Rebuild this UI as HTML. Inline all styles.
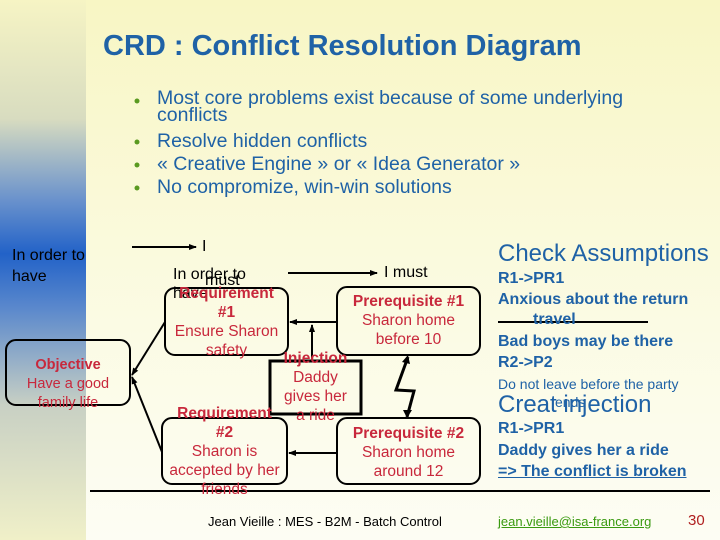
<!DOCTYPE html>
<html><head><meta charset="utf-8"><style>
body{margin:0;width:720px;height:540px;overflow:hidden;font-family:"Liberation Sans",sans-serif;}
#bg{position:absolute;left:0;top:0;width:720px;height:540px;background:linear-gradient(#f8f6c4,#fbfbe4 60%,#fdfdf4);}
#strip{position:absolute;left:0;top:0;width:86px;height:540px;background:linear-gradient(#f6f4c4 0%,#d8dcc0 22%,#6a92cc 37%,#2262c8 47%,#5a88cc 57%,#c8d0c4 75%,#f0f0c8 100%);}
.t{position:absolute;white-space:nowrap;}
.c{text-align:center;position:absolute;color:#c8283c;font-size:15.5px;line-height:19px;}
.b{font-weight:bold;}
.blue{color:#1f62a6;}
</style></head><body>
<div id="bg"></div><div id="strip"></div>
<div class="t blue b" style="left:103px;top:30px;font-size:29px;">CRD : Conflict Resolution Diagram</div>
<div class="blue" style="position:absolute;left:157px;top:90px;font-size:19.5px;line-height:17px;">Most core problems exist because of some underlying<br>conflicts</div>
<div class="t blue" style="left:157px;top:130px;font-size:19.5px;">Resolve hidden conflicts</div>
<div class="t blue" style="left:157px;top:153px;font-size:19.5px;">« Creative Engine » or « Idea Generator »</div>
<div class="t blue" style="left:157px;top:176px;font-size:19.5px;">No compromize, win-win solutions</div>
<svg style="position:absolute;left:0;top:0" width="720" height="540">
<g fill="#5a9a20"><circle cx="137" cy="101" r="2.5"/><circle cx="137" cy="142" r="2.5"/><circle cx="137" cy="165" r="2.5"/><circle cx="137" cy="188" r="2.5"/></g>
<defs><marker id="a" markerWidth="8" markerHeight="8" refX="7" refY="4" orient="auto" markerUnits="userSpaceOnUse"><path d="M0,1 L8,4 L0,7z" fill="#000"/></marker></defs>
<g stroke="#000" stroke-width="2" fill="none">
<rect x="6" y="340" width="124" height="65" rx="10"/>
<rect x="165" y="288" width="123" height="67" rx="10"/>
<rect x="162" y="418" width="125" height="66" rx="10"/>
<rect x="337" y="287" width="143" height="68" rx="10"/>
<rect x="337" y="418" width="143" height="66" rx="10"/>
<rect x="270" y="361" width="91" height="53" stroke-width="3"/>
<line x1="132" y1="247" x2="196" y2="247" marker-end="url(#a)"/>
<line x1="288" y1="273" x2="377" y2="273" marker-end="url(#a)"/>
<line x1="337" y1="322" x2="290" y2="322" marker-end="url(#a)"/>
<line x1="337" y1="453" x2="289" y2="453" marker-end="url(#a)"/>
<line x1="312" y1="360" x2="312" y2="325" marker-end="url(#a)"/>
<line x1="165" y1="322" x2="132" y2="375" marker-end="url(#a)"/>
<line x1="162" y1="452" x2="132" y2="377" marker-end="url(#a)"/>
<polyline points="408,357 396,390 414,391 407,417" stroke-width="3"/>
<line x1="90" y1="491" x2="710" y2="491"/>
<line x1="498" y1="322" x2="648" y2="322"/>
</g>
<path d="M402,362 L408,355 L410,364z M403,410 L407,418 L412,410z" fill="#000"/>
</svg>
<div class="t" style="left:12px;top:245px;font-size:16px;line-height:21px;">In order to<br>have</div>
<div class="t" style="left:202px;top:238px;font-size:16px;">I</div>
<div class="t" style="left:173px;top:265px;font-size:16px;line-height:19px;">In order to<br>have</div>
<div class="t" style="left:205px;top:272px;font-size:16px;">must</div>
<div class="t" style="left:384px;top:264px;font-size:16px;">I must</div>
<div class="c" style="left:6px;top:356px;width:124px;font-size:14.5px;"><span class="b">Objective</span><br>Have a good<br>family life</div>
<div class="c" style="left:165px;top:284px;width:123px;"><span class="b">Requirement<br>#1</span><br>Ensure Sharon<br>safety</div>
<div class="c" style="left:162px;top:404px;width:125px;"><span class="b">Requirement<br>#2</span><br>Sharon is<br>accepted by her<br>friends</div>
<div class="c" style="left:332px;top:292px;width:153px;"><span class="b">Prerequisite #1</span><br>Sharon home<br>before 10</div>
<div class="c" style="left:332px;top:424px;width:153px;"><span class="b">Prerequisite #2</span><br>Sharon home<br>around 12</div>
<div class="c" style="left:265px;top:349px;width:101px;"><span class="b">Injection</span><br>Daddy<br>gives her<br>a ride</div>
<div class="t blue" style="left:498px;top:240px;font-size:24px;">Check Assumptions</div>
<div class="t blue b" style="left:498px;top:270px;font-size:16px;">R1-&gt;PR1</div>
<div class="t blue b" style="left:498px;top:291px;font-size:16px;">Anxious about the return</div>
<div class="t blue b" style="left:533px;top:311px;font-size:16px;">travel</div>
<div class="t blue b" style="left:498px;top:333px;font-size:16px;">Bad boys may be there</div>
<div class="t blue b" style="left:498px;top:354px;font-size:16px;">R2-&gt;P2</div>
<div class="t blue" style="left:498px;top:376px;font-size:14px;">Do not leave before the party</div>
<div class="t blue" style="left:555px;top:394px;font-size:14px;">ends</div>
<div class="t blue" style="left:498px;top:391px;font-size:24px;">Creat injection</div>
<div class="t blue b" style="left:498px;top:420px;font-size:16px;">R1-&gt;PR1</div>
<div class="t blue b" style="left:498px;top:442px;font-size:16px;">Daddy gives her a ride</div>
<div class="t blue b" style="left:498px;top:463px;font-size:16px;text-decoration:underline;">=&gt; The conflict is broken</div>
<div class="t" style="left:208px;top:514px;font-size:13px;">Jean Vieille : MES - B2M - Batch Control</div>
<div class="t" style="left:498px;top:514px;font-size:13px;color:#3a9a10;text-decoration:underline;">jean.vieille@isa-france.org</div>
<div class="t" style="left:688px;top:512px;font-size:15px;color:#b02020;">30</div>
</body></html>
